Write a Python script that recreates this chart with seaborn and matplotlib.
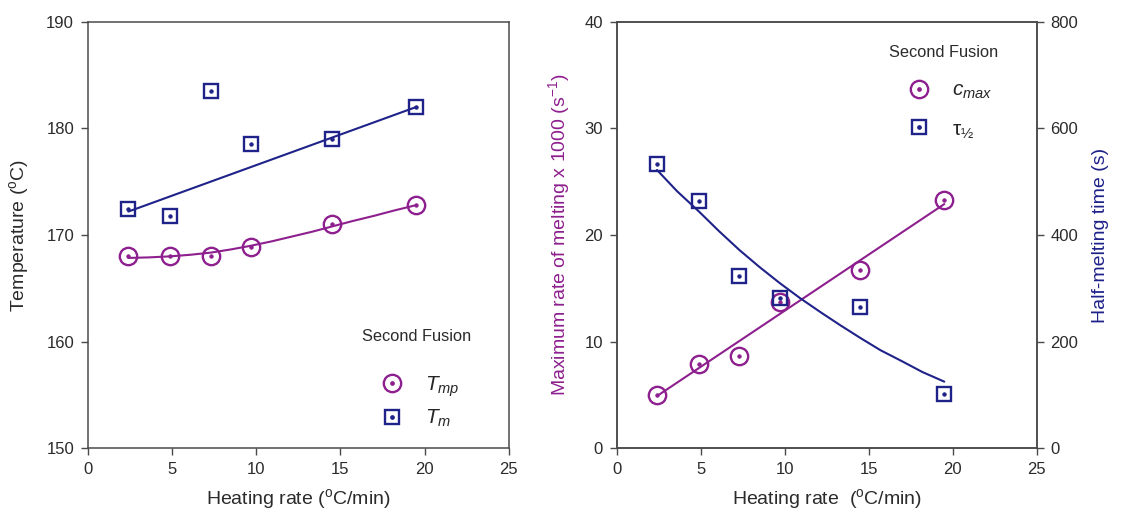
import matplotlib
matplotlib.use("Agg")
import matplotlib.pyplot as plt
import seaborn as sns
from matplotlib.lines import Line2D

sns.set_theme(style="ticks")
plt.rcParams['font.family'] = ['Liberation Sans', 'DejaVu Sans']
plt.rcParams['mathtext.fontset'] = 'custom'
plt.rcParams['mathtext.rm'] = 'Liberation Sans'
plt.rcParams['mathtext.it'] = 'Liberation Sans:italic'
plt.rcParams['mathtext.default'] = 'regular'

# measured points
rate = [2.4, 4.9, 7.3, 9.7, 14.5, 19.5]
t_mp = [168.0, 168.0, 168.0, 168.9, 171.0, 172.8]
t_m = [172.4, 171.8, 183.5, 178.5, 179.0, 182.0]
c_max = [5.0, 7.9, 8.7, 13.7, 16.7, 23.3]
tau_half = [534, 464, 324, 281, 265, 102]

# fitted curves
fit_rate = [2.4, 3.6, 4.9, 6.1, 7.3, 8.5, 9.7, 10.9, 12.1, 13.3, 14.5, 15.7, 17.0, 18.2, 19.5]
t_mp_fit = [167.85, 167.9, 168.0, 168.15, 168.35, 168.65, 169.0, 169.4, 169.85,
            170.3, 170.8, 171.3, 171.8, 172.3, 172.8]
tau_fit = [522, 482, 444, 407, 372, 340, 310, 282, 256, 231, 207, 184, 163, 143, 125]
line_rate = [2.4, 19.5]
t_m_fit = [172.2, 182.0]
c_max_fit = [4.9, 22.9]

PURPLE = '#8E1F8E'
NAVY = '#1E2289'
INK = '#2b2b2b'
SPINE = '#4a4a4a'


def draw_points(ax, x, y, marker, size, color):
    sns.lineplot(x=x, y=y, ax=ax, marker=marker, ms=size, mfc='none', mec=color,
                 mew=1.7, ls='none', color=color, zorder=4)
    sns.lineplot(x=x, y=y, ax=ax, marker='o', ms=2.4, mfc=color, mec=color,
                 ls='none', color=color, zorder=5)


def draw_fit(ax, x, y, color):
    sns.lineplot(x=x, y=y, ax=ax, color=color, lw=1.5, zorder=3)


def legend_handle(marker, size, color):
    ring = Line2D([], [], marker=marker, ms=size, mfc='none', mec=color, mew=1.7, ls='none')
    dot = Line2D([], [], marker='o', ms=2.4, mfc=color, mec=color, ls='none')
    return (ring, dot)


def style_axes(ax):
    for side in ax.spines:
        ax.spines[side].set_color(SPINE)
        ax.spines[side].set_linewidth(1.1)
    ax.tick_params(direction='out', length=5, width=1.0, color=SPINE,
                   labelsize=12, labelcolor=INK, pad=5)


def add_legend(ax, handles, labels, x, title_y, top_y, spacing):
    ax.text(x, title_y, 'Second Fusion', transform=ax.transAxes, fontsize=11.8,
            color=INK, ha='left', va='center')
    ax.legend(handles, labels, loc='upper left', bbox_to_anchor=(x, top_y),
              frameon=False, fontsize=15, handlelength=2.9,
              handletextpad=0.15, labelspacing=spacing, borderpad=0,
              borderaxespad=0)


fig = plt.figure(figsize=(11.21, 5.12), dpi=100)
ax_l = fig.add_axes([0.0785, 0.1244, 0.3753, 0.8332])
ax_r = fig.add_axes([0.5501, 0.1244, 0.3747, 0.8332])
ax_rr = ax_r.twinx()

# left panel: temperatures
draw_fit(ax_l, fit_rate, t_mp_fit, PURPLE)
draw_fit(ax_l, line_rate, t_m_fit, NAVY)
draw_points(ax_l, rate, t_mp, 'o', 12.5, PURPLE)
draw_points(ax_l, rate, t_m, 's', 10.5, NAVY)
ax_l.set_xlim(0, 25)
ax_l.set_ylim(150, 190)
ax_l.set_xticks([0, 5, 10, 15, 20, 25])
ax_l.set_yticks([150, 160, 170, 180, 190])
ax_l.set_xlabel(r'Heating rate ($^{o}$C/min)', fontsize=14, color=INK, labelpad=7)
ax_l.set_ylabel(r'Temperature ($^{o}$C)', fontsize=14, color=INK, labelpad=11)
style_axes(ax_l)
add_legend(ax_l,
           [legend_handle('o', 12.5, PURPLE), legend_handle('s', 10.5, NAVY)],
           [r'$\mathit{T}_{\mathit{mp}}$', r'$\mathit{T}_{\mathit{m}}$'],
           0.651, 0.261, 0.174, 0.45)

# right panel: melting rate and half-melting time
draw_fit(ax_r, line_rate, c_max_fit, PURPLE)
draw_points(ax_r, rate, c_max, 'o', 12.5, PURPLE)
draw_fit(ax_rr, fit_rate, tau_fit, NAVY)
draw_points(ax_rr, rate, tau_half, 's', 10.5, NAVY)
ax_r.set_xlim(0, 25)
ax_r.set_ylim(0, 40)
ax_rr.set_ylim(0, 800)
ax_r.set_xticks([0, 5, 10, 15, 20, 25])
ax_r.set_yticks([0, 10, 20, 30, 40])
ax_rr.set_yticks([0, 200, 400, 600, 800])
ax_r.set_xlabel(r'Heating rate  ($^{o}$C/min)', fontsize=14, color=INK, labelpad=7)
ax_r.set_ylabel(r'Maximum rate of melting x 1000 (s$^{-1}$)', fontsize=14,
                color=PURPLE, labelpad=9)
ax_rr.set_ylabel('Half-melting time (s)', fontsize=14, color=NAVY, labelpad=10)
style_axes(ax_r)
style_axes(ax_rr)
add_legend(ax_rr,
           [legend_handle('o', 12.5, PURPLE), legend_handle('s', 10.5, NAVY)],
           [r'$\mathit{c}_{\mathit{max}}$', 'τ$_{½}$'],
           0.648, 0.927, 0.861, 0.88)

fig.savefig('out.png', dpi=100)
